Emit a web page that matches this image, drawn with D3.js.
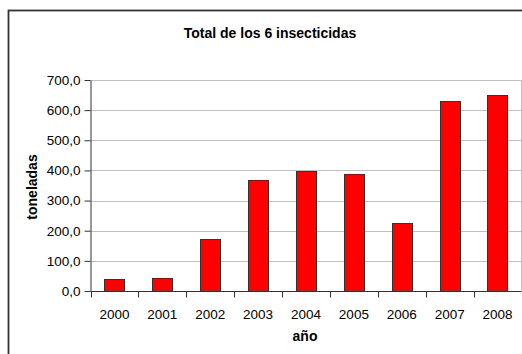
<!DOCTYPE html>
<html>
<head>
<meta charset="utf-8">
<title>Total de los 6 insecticidas</title>
<script src="https://d3js.org/d3.v7.min.js"></script>
<style>
  body { margin: 0; background: #fff; }
  svg { display: block; font-family: "Liberation Sans", Arial, sans-serif; }
  .axis path, .axis line { stroke: #333; }
  .axis text { fill: #000; font-size: 13.5px; }
</style>
</head>
<body>
<svg id="chart" width="522" height="354"></svg>
<script>
// data
var years = ["2000", "2001", "2002", "2003", "2004", "2005", "2006", "2007", "2008"];
var toneladas = [39, 42, 172, 367, 398, 387, 227, 631, 651];
var yTicks = [0, 100, 200, 300, 400, 500, 600, 700];

var svg = d3.select("#chart");

// outer frame (runs off the right and bottom of the picture)
svg.append("rect")
  .attr("x", 8.5).attr("y", 10.5)
  .attr("width", 600).attr("height", 400)
  .attr("fill", "none")
  .attr("stroke", "#333")
  .attr("stroke-width", 1.8);

var plot = {left: 90.5, right: 521.5, top: 80, bottom: 291};

var x = d3.scaleBand()
  .domain(years)
  .range([plot.left, plot.right])
  .paddingInner(0.58)
  .paddingOuter(0.29);

var y = d3.scaleLinear()
  .domain([0, 700])
  .range([plot.bottom, plot.top]);

// gridlines
svg.append("g")
  .selectAll("line")
  .data(yTicks.slice(1))
  .enter().append("line")
  .attr("x1", plot.left).attr("x2", plot.right)
  .attr("y1", function(d){ return Math.round(y(d)) + 0.5; })
  .attr("y2", function(d){ return Math.round(y(d)) + 0.5; })
  .attr("stroke", "#c0c0c0");

// right edge of plot area
svg.append("line")
  .attr("x1", plot.right).attr("x2", plot.right)
  .attr("y1", plot.top + 0.5).attr("y2", plot.bottom)
  .attr("stroke", "#c0c0c0");

// bars
svg.append("g")
  .selectAll("rect")
  .data(toneladas)
  .enter().append("rect")
  .attr("x", function(d, i){ return Math.round(x(years[i])) + 0.5; })
  .attr("y", function(d){ return Math.round(y(d)) + 0.5; })
  .attr("width", Math.round(x.bandwidth()))
  .attr("height", function(d){ return Math.round(y(0)) - Math.round(y(d)); })
  .attr("fill", "#ff0000")
  .attr("stroke", "#333")
  .attr("stroke-width", 1);

// y axis
var yAxis = svg.append("g")
  .attr("class", "axis")
  .attr("transform", "translate(" + plot.left + ",0)")
  .call(d3.axisLeft(y)
    .tickValues(yTicks)
    .tickSize(6)
    .tickPadding(4)
    .tickSizeOuter(0)
    .tickFormat(function(d){ return d3.format(".1f")(d).replace(".", ","); }));

// x axis: ticks sit between categories
var xAxisG = svg.append("g")
  .attr("class", "axis")
  .attr("transform", "translate(0," + (plot.bottom + 0.5) + ")");

xAxisG.append("line")
  .attr("x1", plot.left).attr("x2", plot.right)
  .attr("stroke", "#333");

var step = x.step();
var bounds = d3.range(years.length + 1).map(function(i){ return plot.left + i * step; });
xAxisG.selectAll(".tk")
  .data(bounds)
  .enter().append("line")
  .attr("class", "tk")
  .attr("x1", function(d){ return Math.round(d) + 0.5; })
  .attr("x2", function(d){ return Math.round(d) + 0.5; })
  .attr("y1", 0).attr("y2", 6)
  .attr("stroke", "#333");

xAxisG.selectAll(".lbl")
  .data(years)
  .enter().append("text")
  .attr("class", "lbl")
  .attr("x", function(d){ return x(d) + x.bandwidth() / 2; })
  .attr("y", 27.5)
  .attr("text-anchor", "middle")
  .text(function(d){ return d; });

// title and axis labels
svg.append("text")
  .attr("x", 270).attr("y", 38)
  .attr("text-anchor", "middle")
  .attr("font-size", "14px")
  .attr("font-weight", "bold")
  .text("Total de los 6 insecticidas");

svg.append("text")
  .attr("transform", "translate(36.5,187) rotate(-90)")
  .attr("text-anchor", "middle")
  .attr("font-size", "14px")
  .attr("font-weight", "bold")
  .text("toneladas");

svg.append("text")
  .attr("x", 305).attr("y", 341)
  .attr("text-anchor", "middle")
  .attr("font-size", "14px")
  .attr("font-weight", "bold")
  .text("año");
</script>
</body>
</html>
